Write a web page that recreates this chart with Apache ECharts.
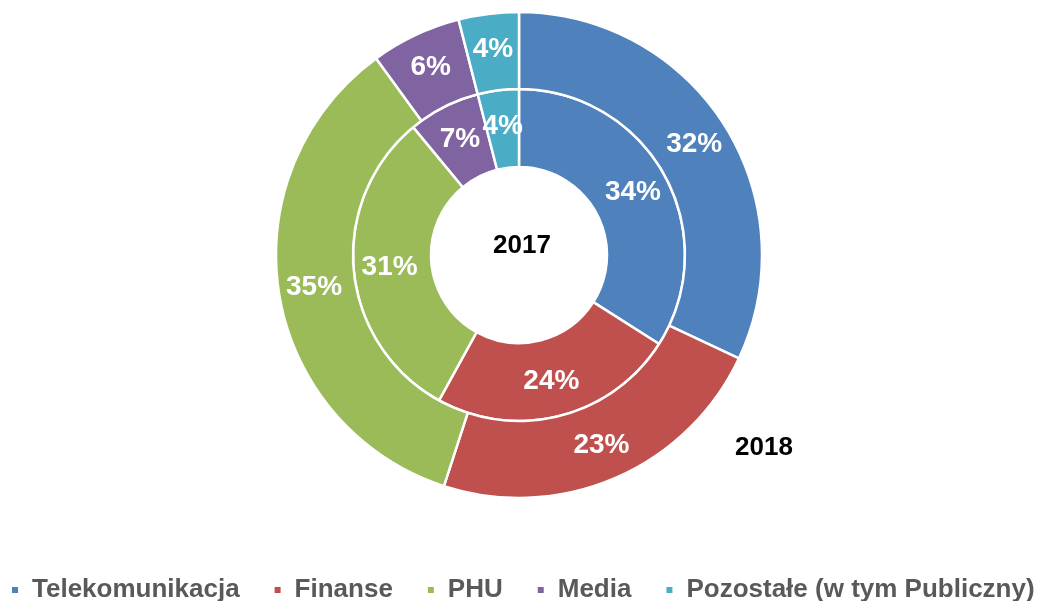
<!DOCTYPE html>
<html>
<head>
<meta charset="utf-8">
<script src="https://cdn.jsdelivr.net/npm/echarts@6/dist/echarts.min.js"></script>
<style>
  html, body { margin: 0; padding: 0; background: #fff; }
  #chart { width: 1041px; height: 601px; }
</style>
</head>
<body>
<div id="chart"></div>
<script>
var categories = ['Telekomunikacja', 'Finanse', 'PHU', 'Media', 'Pozostałe (w tym Publiczny)'];
var values2017 = [34, 24, 31, 7, 4];
var values2018 = [32, 23, 35, 6, 4];
var colors = ['#4f81bd', '#c0504d', '#9bbb59', '#8064a2', '#4bacc6'];

var chart = echarts.init(document.getElementById('chart'));

function toData(vals) {
  return categories.map(function (c, i) { return { name: c, value: vals[i] }; });
}

var labelStyle = {
  show: true,
  position: 'inside',
  formatter: '{c}%',
  color: '#fff',
  fontSize: 28,
  fontWeight: 'bold',
  fontFamily: 'Liberation Sans, Arial, sans-serif'
};

var option = {
  animation: false,
  color: colors,
  legend: {
    data: categories,
    left: 10,
    top: 577,
    width: 1100,
    padding: 0,
    icon: 'rect',
    itemWidth: 8,
    itemHeight: 8,
    itemGap: 33,
    textStyle: {
      color: '#595959',
      fontSize: 26,
      fontWeight: 'bold',
      fontFamily: 'Liberation Sans, Arial, sans-serif',
      padding: [0, 0, 0, 8]
    }
  },
  graphic: [
    { type: 'text', left: 493, top: 233, style: { text: '2017', fill: '#000', font: 'bold 26px Liberation Sans, Arial, sans-serif' } },
    { type: 'text', left: 735, top: 435, style: { text: '2018', fill: '#000', font: 'bold 26px Liberation Sans, Arial, sans-serif' } }
  ],
  series: [
    {
      name: '2017',
      type: 'pie',
      center: [519, 255],
      radius: [88, 166],
      startAngle: 90,
      clockwise: true,
      itemStyle: { borderColor: '#fff', borderWidth: 2.5 },
      label: labelStyle,
      labelLine: { show: false },
      emphasis: { disabled: true },
      data: toData(values2017)
    },
    {
      name: '2018',
      type: 'pie',
      center: [519, 255],
      radius: [166, 243],
      startAngle: 90,
      clockwise: true,
      itemStyle: { borderColor: '#fff', borderWidth: 2.5 },
      label: labelStyle,
      labelLine: { show: false },
      emphasis: { disabled: true },
      data: toData(values2018)
    }
  ]
};

chart.setOption(option);
</script>
</body>
</html>
